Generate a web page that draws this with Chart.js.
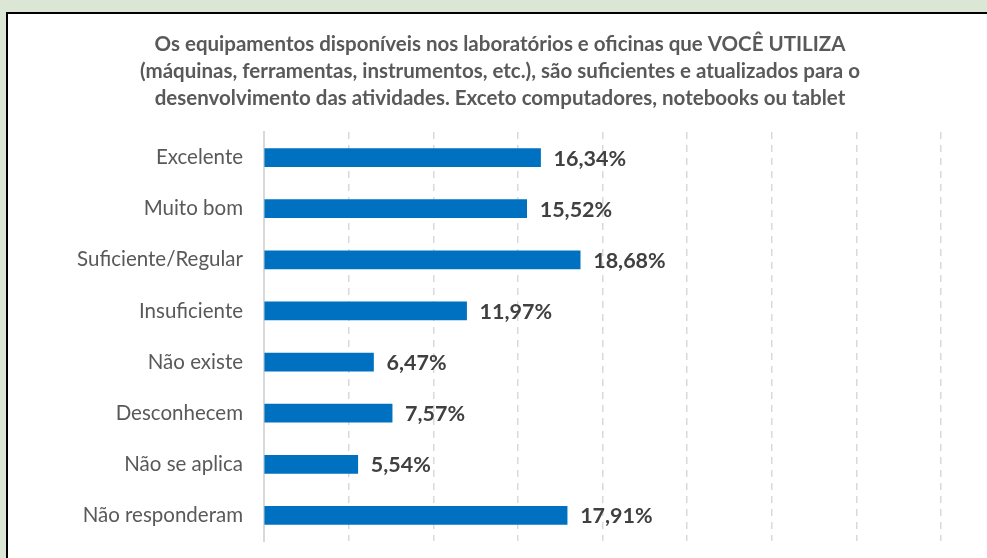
<!DOCTYPE html>
<html>
<head>
<meta charset="utf-8">
<script src="https://cdn.jsdelivr.net/npm/chart.js@4"></script>
<style>
  html, body { margin: 0; padding: 0; overflow: hidden; background: #dce6d4; width: 987px; height: 558px; }
  #box { position: absolute; left: 6px; top: 12px; width: 1100px; height: 600px; border: 2px solid #000; background: #fff; }
  #chart { display: block; }
</style>
</head>
<body>
<div id="box"><canvas id="chart" width="1000" height="544"></canvas></div>
<script>
// dados
const categorias = ['Excelente', 'Muito bom', 'Suficiente/Regular', 'Insuficiente', 'Não existe', 'Desconhecem', 'Não se aplica', 'Não responderam'];
const percentuais = [16.34, 15.52, 18.68, 11.97, 6.47, 7.57, 5.54, 17.91];
const titulo = [
  'Os equipamentos disponíveis nos laboratórios e oficinas que VOCÊ UTILIZA',
  '(máquinas, ferramentas, instrumentos, etc.), são suficientes e atualizados para o',
  'desenvolvimento das atividades. Exceto computadores, notebooks ou tablet'
];

const FONTE = 'Lato, "Open Sans", sans-serif';

// rótulos de valor no fim de cada barra
const rotulos = {
  id: 'rotulos',
  afterDatasetsDraw(chart) {
    const ctx = chart.ctx;
    const meta = chart.getDatasetMeta(0);
    ctx.save();
    ctx.font = 'bold 21.5px ' + FONTE;
    ctx.fillStyle = '#404040';
    ctx.textAlign = 'left';
    ctx.textBaseline = 'middle';
    meta.data.forEach((bar, i) => {
      const txt = percentuais[i].toFixed(2).replace('.', ',') + '%';
      ctx.fillText(txt, bar.x + 13, bar.y + 1);
    });
    ctx.restore();
  }
};

const ctx = document.getElementById('chart').getContext('2d');
new Chart(ctx, {
  type: 'bar',
  data: {
    labels: categorias,
    datasets: [{
      data: percentuais,
      backgroundColor: '#0070c0',
      barThickness: 18
    }]
  },
  options: {
    indexAxis: 'y',
    responsive: false,
    maintainAspectRatio: false,
    animation: false,
    layout: { padding: { left: 51, right: 67, top: 0, bottom: 17 } },
    plugins: {
      legend: { display: false },
      tooltip: { enabled: false },
      title: {
        display: true,
        text: titulo,
        color: '#595959',
        font: { family: FONTE, size: 20.5, weight: 'bold', lineHeight: '27px' },
        padding: { top: 17, bottom: 20 }
      }
    },
    scales: {
      x: {
        min: 0,
        max: 40,
        ticks: { display: false, stepSize: 5 },
        grid: {
          color: '#d9d9d9',
          lineWidth: 1.5,
          drawTicks: false
        },
        border: {
          display: false,
          dash: c => (c.tick && c.tick.value === 0) ? [] : [7, 6]
        },
        afterFit: s => { s.height = 0; }
      },
      y: {
        grid: { display: false, drawTicks: false },
        border: { display: true, color: '#d9d9d9', width: 2 },
        ticks: {
          color: '#595959',
          padding: 21,
          font: { family: FONTE, size: 20.5 }
        },
        afterFit: s => {
          s.width = 205;
          s.paddingTop = 0;
          s.paddingBottom = 0;
        }
      }
    }
  },
  plugins: [rotulos]
});
</script>
</body>
</html>
